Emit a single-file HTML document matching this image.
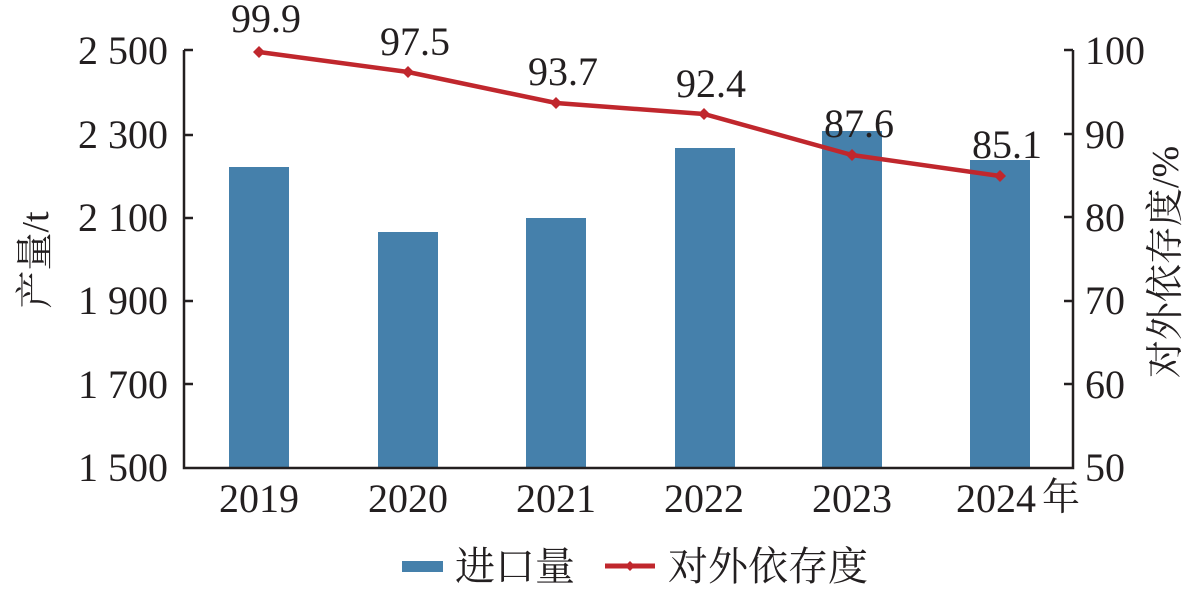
<!DOCTYPE html>
<html><head><meta charset="utf-8"><style>body{margin:0;background:#fff}svg{display:block}text{font-family:"Liberation Serif","Noto Serif CJK SC",serif;fill:#231f20}</style></head>
<body>
<svg width="1200" height="589" viewBox="0 0 1200 589" xmlns="http://www.w3.org/2000/svg">
<g fill="#4580ab">
<rect x="229" y="167" width="60" height="301"/>
<rect x="378" y="232" width="60" height="236"/>
<rect x="526" y="218" width="60" height="250"/>
<rect x="675" y="148" width="60" height="320"/>
<rect x="822" y="131" width="60" height="337"/>
<rect x="970" y="160" width="60" height="308"/>
</g>
<g stroke="#231f20" stroke-width="2.5" fill="none">
<path d="M184 50V468H1073V50"/>
<path d="M184 50h9M184 135h9M184 218h9M184 301h9M184 384h9"/>
<path d="M1073 50h-9M1073 134h-9M1073 217h-9M1073 301h-9M1073 384h-9"/>
</g>
<g font-size="40" text-anchor="end">
<text x="168" y="64">2 500</text>
<text x="168" y="148">2 300</text>
<text x="168" y="231">2 100</text>
<text x="168" y="314">1 900</text>
<text x="168" y="398">1 700</text>
<text x="168" y="481">1 500</text>
</g>
<g font-size="40">
<text x="1085" y="64">100</text>
<text x="1085" y="148">90</text>
<text x="1085" y="231">80</text>
<text x="1085" y="314">70</text>
<text x="1085" y="398">60</text>
<text x="1085" y="481">50</text>
</g>
<g font-size="40" text-anchor="middle">
<text x="259" y="512">2019</text>
<text x="408" y="512">2020</text>
<text x="556" y="512">2021</text>
<text x="704" y="512">2022</text>
<text x="852" y="512">2023</text>
<text x="996" y="512">2024</text>
</g>
<text x="1042" y="510" font-size="38">年</text>
<text transform="translate(1178,262) rotate(-90)" font-size="38" text-anchor="middle">对外依存度/%</text>
<text transform="translate(48,260) rotate(-90)" font-size="38" text-anchor="middle">产量/t</text>
<polyline points="259,52 408,72 556,103 704,114 852,155 1000,176" fill="none" stroke="#c0272d" stroke-width="4.5"/>
<g fill="#c0272d">
<path d="M259 46l6 6-6 6-6-6z"/><path d="M408 66l6 6-6 6-6-6z"/><path d="M556 97l6 6-6 6-6-6z"/><path d="M704 108l6 6-6 6-6-6z"/><path d="M852 149l6 6-6 6-6-6z"/><path d="M1000 170l6 6-6 6-6-6z"/>
</g>
<g font-size="40" text-anchor="middle">
<text x="266" y="32">99.9</text>
<text x="415" y="55">97.5</text>
<text x="563" y="85">93.7</text>
<text x="711" y="97">92.4</text>
<text x="859" y="137">87.6</text>
<text x="1007" y="158">85.1</text>
</g>
<rect x="402" y="561" width="41" height="11" fill="#4580ab"/>
<text x="455" y="580" font-size="40">进口量</text>
<line x1="605" y1="566" x2="655" y2="566" stroke="#c0272d" stroke-width="5"/>
<path d="M630 561l5 5-5 5-5-5z" fill="#c0272d"/>
<text x="668" y="580" font-size="40">对外依存度</text>
</svg>
</body></html>
